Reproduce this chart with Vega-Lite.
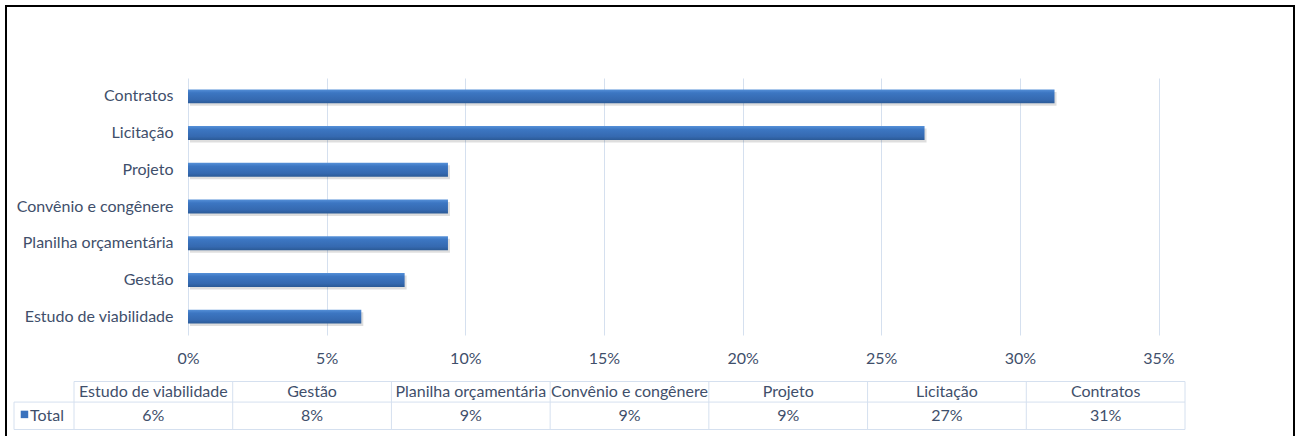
{
  "$schema": "https://vega.github.io/schema/vega-lite/v6.json",
  "width": 1288,
  "height": 430,
  "autosize": "none",
  "padding": {"left": 6, "top": 6, "right": 7, "bottom": 0},
  "background": "white",
  "config": {
    "view": {"stroke": "#000000", "strokeWidth": 2, "strokeDash": [1718, 1288, 480]},
    "font": "Lato",
    "axis": {"labelFont": "Lato", "labelFontSize": 16, "labelColor": "#3f4f6b"},
    "text": {"font": "Lato", "fontSize": 16, "color": "#3f4f6b"}
  },
  "data": {
    "values": [
      {"category": "Estudo de viabilidade", "value": 0.0625},
      {"category": "Gestão", "value": 0.078125},
      {"category": "Planilha orçamentária", "value": 0.09375},
      {"category": "Convênio e congênere", "value": 0.09375},
      {"category": "Projeto", "value": 0.09375},
      {"category": "Licitação", "value": 0.265625},
      {"category": "Contratos", "value": 0.3125}
    ]
  },
  "layer": [
    {
      "encoding": {
        "y": {
          "field": "category", "type": "nominal",
          "scale": {
            "domain": ["Contratos", "Licitação", "Projeto", "Convênio e congênere", "Planilha orçamentária", "Gestão", "Estudo de viabilidade"],
            "range": [72, 329], "paddingInner": 0.62, "paddingOuter": 0.31
          },
          "axis": {"title": null, "orient": "left", "offset": -182, "domain": false, "ticks": false, "grid": false, "labelPadding": 15}
        },
        "x": {
          "field": "value", "type": "quantitative",
          "scale": {"domain": [0, 0.35], "range": [182, 1152.5], "nice": false, "zero": false},
          "axis": {
            "title": null, "orient": "bottom", "offset": -101,
            "values": [0, 0.05, 0.1, 0.15, 0.2, 0.25, 0.3, 0.35],
            "format": ".0%", "domain": false, "grid": false,
            "ticks": true, "tickSize": -257, "tickColor": "#d5e0ef", "tickWidth": 1,
            "labelPadding": 280, "labelBaseline": "middle", "labelFlush": false, "labelOverlap": false
          }
        }
      },
      "layer": [
        {
          "mark": {"type": "bar", "fill": "#000000", "opacity": 0.13, "xOffset": 2, "yOffset": 2.5, "x2Offset": 2}
        },
        {
          "mark": {
            "type": "bar",
            "fill": {
              "gradient": "linear", "x1": 0, "y1": 0, "x2": 0, "y2": 1,
              "stops": [
                {"offset": 0, "color": "#5590d8"},
                {"offset": 0.25, "color": "#3c76c2"},
                {"offset": 0.75, "color": "#3569b0"},
                {"offset": 1, "color": "#2b5a96"}
              ]
            }
          }
        }
      ]
    },
    {
      "encoding": {
        "x": {
          "field": "category", "type": "nominal",
          "scale": {
            "type": "band",
            "domain": ["Estudo de viabilidade", "Gestão", "Planilha orçamentária", "Convênio e congênere", "Projeto", "Licitação", "Contratos"],
            "range": [68, 1179], "paddingInner": 0, "paddingOuter": 0
          },
          "axis": null
        }
      },
      "layer": [
        {
          "mark": {"type": "text", "baseline": "middle", "align": "center"},
          "encoding": {
            "y": {"datum": 0.365, "type": "quantitative", "scale": {"domain": [0, 1.75], "range": [375.5, 423.5], "nice": false, "zero": false}, "axis": null},
            "text": {"field": "category"}
          }
        },
        {
          "mark": {"type": "text", "baseline": "middle", "align": "center"},
          "encoding": {
            "y": {"datum": 1.24, "type": "quantitative"},
            "text": {"field": "value", "format": ".0%"}
          }
        },
        {
          "mark": {"type": "rule", "color": "#d5e0ef", "strokeWidth": 1},
          "encoding": {
            "x": {"field": "category", "type": "nominal", "bandPosition": 0},
            "y": {"datum": 0, "type": "quantitative"},
            "y2": {"datum": 1.75}
          }
        }
      ]
    },
    {
      "data": {"values": [{}]},
      "encoding": {
        "x": {"datum": 0, "type": "quantitative", "scale": {"domain": [-0.378, 7], "range": [8, 1179], "nice": false, "zero": false}, "axis": null},
        "y": {"datum": 0, "type": "quantitative", "scale": {"domain": [0, 1.75], "range": [375.5, 423.5], "nice": false, "zero": false}, "axis": null}
      },
      "layer": [
        {
          "mark": {"type": "rule", "color": "#d5e0ef", "strokeWidth": 1},
          "encoding": {"x": {"datum": 0, "type": "quantitative"}, "x2": {"datum": 7}, "y": {"datum": 0, "type": "quantitative"}}
        },
        {
          "mark": {"type": "rule", "color": "#d5e0ef", "strokeWidth": 1},
          "encoding": {"x": {"datum": -0.378, "type": "quantitative"}, "x2": {"datum": 7}, "y": {"datum": 0.75, "type": "quantitative"}}
        },
        {
          "mark": {"type": "rule", "color": "#d5e0ef", "strokeWidth": 1},
          "encoding": {"x": {"datum": -0.378, "type": "quantitative"}, "x2": {"datum": 7}, "y": {"datum": 1.75, "type": "quantitative"}}
        },
        {
          "mark": {"type": "rule", "color": "#d5e0ef", "strokeWidth": 1},
          "encoding": {"x": {"datum": -0.378, "type": "quantitative"}, "y": {"datum": 0.75, "type": "quantitative"}, "y2": {"datum": 1.75}}
        },
        {
          "mark": {"type": "rule", "color": "#d5e0ef", "strokeWidth": 1},
          "encoding": {"x": {"datum": 7, "type": "quantitative"}, "y": {"datum": 0, "type": "quantitative"}, "y2": {"datum": 1.75}}
        },
        {
          "mark": {"type": "point", "shape": "square", "filled": true, "size": 56, "color": "#3a72bd", "opacity": 1},
          "encoding": {"x": {"datum": -0.312, "type": "quantitative"}, "y": {"datum": 1.2, "type": "quantitative"}}
        },
        {
          "mark": {"type": "text", "align": "left", "baseline": "middle"},
          "encoding": {"x": {"datum": -0.277, "type": "quantitative"}, "y": {"datum": 1.24, "type": "quantitative"}, "text": {"value": "Total"}}
        }
      ]
    }
  ],
  "resolve": {"scale": {"x": "independent", "y": "independent"}}
}
